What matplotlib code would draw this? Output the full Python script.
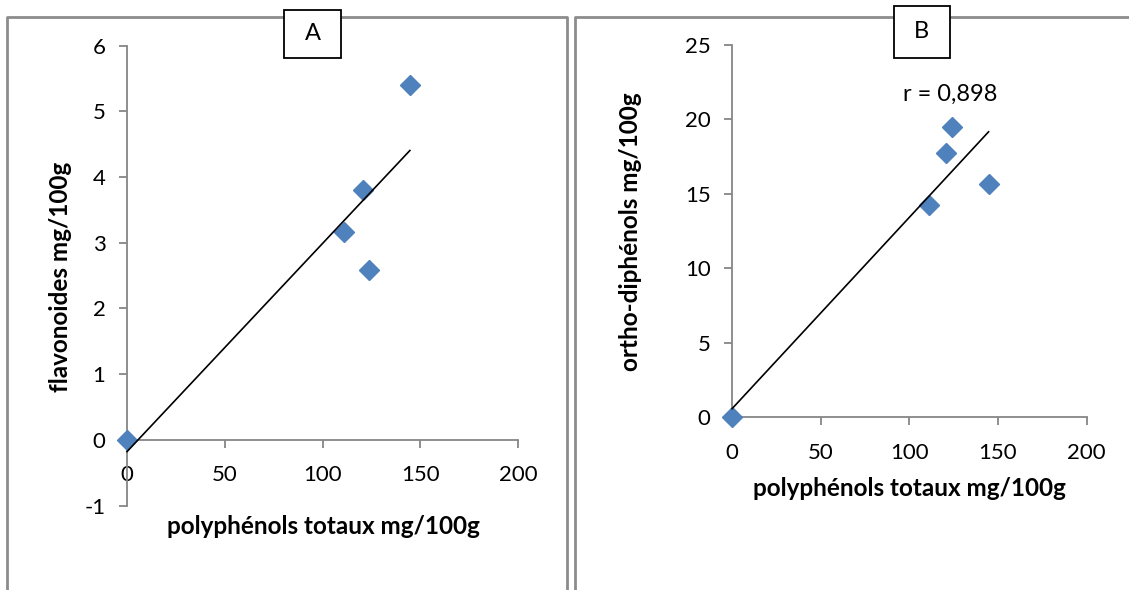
import numpy as np
import matplotlib
matplotlib.use("Agg")
import matplotlib.pyplot as plt
from matplotlib.lines import Line2D
from matplotlib.patches import Rectangle

plt.rcParams['font.family'] = ['Lato', 'DejaVu Sans']
plt.rcParams['axes.unicode_minus'] = False

# data
polyphenols = [0, 111, 120.5, 124, 144.7]
flavonoides = [0, 3.16, 3.8, 2.58, 5.4]
ortho_diphenols = [0, 14.25, 17.75, 19.5, 15.65]
x_ticks = [0, 50, 100, 150, 200]
a_yticks = [-1, 0, 1, 2, 3, 4, 5, 6]
b_yticks = [0, 5, 10, 15, 20, 25]
xlabel = "polyphénols totaux mg/100g"
a_ylabel = "flavonoides mg/100g"
b_ylabel = "ortho-diphénols mg/100g"
b_note = "r = 0,898"

W, H = 1129, 590
GRAY = "#868686"
BLUE = "#4F81BD"
TICK_FS = 16
LABEL_FS = 17.5


def rect(left, top, right, bottom):
    return [left / W, 1 - bottom / H, (right - left) / W, (bottom - top) / H]


def fx(px):
    return px / W


def fy(py):
    return 1 - py / H


def style_axes(ax, ylim, yticks):
    ax.set_xlim(0, 200)
    ax.set_ylim(*ylim)
    ax.set_xticks(x_ticks)
    ax.set_yticks(yticks)
    ax.patch.set_alpha(0)
    for s in ["top", "right"]:
        ax.spines[s].set_visible(False)
    for s in ["left", "bottom"]:
        ax.spines[s].set_color(GRAY)
        ax.spines[s].set_linewidth(1.3)
    ax.spines["bottom"].set_position(("data", 0))
    ax.tick_params(direction="out", length=5.5, width=1.3, color=GRAY,
                   labelsize=TICK_FS, labelcolor="black")
    ax.tick_params(axis="x", pad=13)
    ax.tick_params(axis="y", pad=10)


def draw_panel(ax, x, y):
    ax.plot(x, y, linestyle="none", marker="D", markersize=10,
            color=BLUE, clip_on=False, zorder=3)
    # linear trend line, as in the source chart
    slope, intercept = np.polyfit(x, y, 1)
    xs = np.array([0, max(x)])
    ax.plot(xs, slope * xs + intercept, color="black", lw=1.2,
            clip_on=False, zorder=4)


fig = plt.figure(figsize=(W / 100, H / 100), dpi=100)

# panel frames (open at the bottom)
frame_kw = dict(color="#8c8c8c", lw=2.0, transform=fig.transFigure)
fig.add_artist(Line2D([fx(7), fx(7), fx(567), fx(567)],
                      [fy(600), fy(17), fy(17), fy(600)], **frame_kw))
fig.add_artist(Line2D([fx(575), fx(575), fx(1140)],
                      [fy(600), fy(17), fy(17)], **frame_kw))

axA = fig.add_axes(rect(127, 45.5, 518, 505.5))
style_axes(axA, (-1, 6), a_yticks)
draw_panel(axA, polyphenols, flavonoides)

axB = fig.add_axes(rect(732, 45, 1086.6, 417.3))
style_axes(axB, (0, 25), b_yticks)
draw_panel(axB, polyphenols, ortho_diphenols)

fig.text(fx(323), fy(527), xlabel, ha="center", va="center",
         fontsize=LABEL_FS, fontweight="bold")
fig.text(fx(909.6), fy(489), xlabel, ha="center", va="center",
         fontsize=LABEL_FS, fontweight="bold")
fig.text(fx(60), fy(277), a_ylabel, ha="center", va="center",
         rotation=90, fontsize=LABEL_FS, fontweight="bold")
fig.text(fx(630), fy(232), b_ylabel, ha="center", va="center",
         rotation=90, fontsize=LABEL_FS, fontweight="bold")

fig.text(fx(950), fy(94), b_note, ha="center", va="center", fontsize=17)

# letter boxes
for (l, t, r, b, letter) in [(284, 10, 341, 58, "A"), (893.5, 5.5, 950, 57.5, "B")]:
    fig.add_artist(Rectangle((fx(l), fy(b)), fx(r - l), (b - t) / H,
                             transform=fig.transFigure, facecolor="white",
                             edgecolor="black", lw=1.3, zorder=5))
    fig.text(fx((l + r) / 2), fy((t + b) / 2), letter, ha="center",
             va="center", fontsize=17, zorder=6)

fig.savefig("out.png", dpi=100)
